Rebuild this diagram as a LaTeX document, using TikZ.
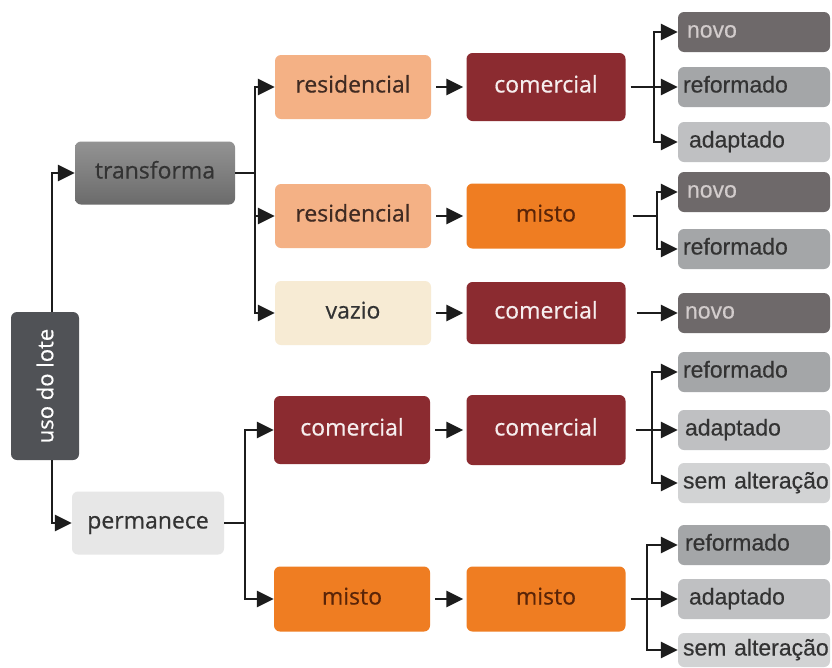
\documentclass[tikz,border=0pt]{standalone}
\usepackage{fontspec}
\setmainfont{Open Sans}[BoldFont=Open Sans, BoldFeatures={FakeBold=0.5}]
\newfontfamily\leaffont{Liberation Sans}[BoldFont=Liberation Sans, BoldFeatures={FakeBold=0.4}]
\usetikzlibrary{arrows.meta,calc}
\definecolor{usoc}{HTML}{505256}
\definecolor{transtop}{HTML}{939393}
\definecolor{transbot}{HTML}{6B6B6B}
\definecolor{permc}{HTML}{E7E7E7}
\definecolor{resc}{HTML}{F4B185}
\definecolor{vazc}{HTML}{F7EBD4}
\definecolor{comc}{HTML}{8B2B30}
\definecolor{mistc}{HTML}{EF7D22}
\definecolor{novoc}{HTML}{6E696A}
\definecolor{refc}{HTML}{A4A6A8}
\definecolor{adapc}{HTML}{BFC0C2}
\definecolor{semc}{HTML}{D2D3D4}
\definecolor{darktxt}{HTML}{333333}
\definecolor{mistxt}{HTML}{5A2408}
\definecolor{restxt}{HTML}{3F2A22}
\definecolor{comtxt}{HTML}{F6EEEE}
\definecolor{novotxt}{HTML}{D2CCCC}
\definecolor{arrowc}{HTML}{1C1C1C}
\begin{document}
\begin{tikzpicture}[x=1pt,y=-1pt,
  box/.style={rectangle, rounded corners=6pt, inner sep=0pt, draw=none,
    font=\bfseries\fontsize{23}{27}\selectfont, text height=12pt, text depth=1pt},
  colbox/.style={box, minimum width=156pt, minimum height=64pt},
  leaf/.style={rectangle, rounded corners=6pt, draw=none, minimum height=40pt,
    text width=142pt, inner xsep=5pt, inner ysep=0pt, align=left,
    font=\leaffont\bfseries\fontsize{23}{27}\selectfont, text height=12pt, text depth=1pt},
  ln/.style={line width=2.7pt, draw=arrowc},
  arr/.style={ln, -{Triangle[length=17pt,width=16pt]}}
]
\useasboundingbox (0,0) rectangle (832,667);
\fill[white] (0,0) rectangle (832,667);

% root
\node[rectangle, rounded corners=6pt, inner sep=0pt, fill=usoc, text=white,
  minimum width=68pt, minimum height=148pt, font=\bfseries\fontsize{22}{26}\selectfont]
  (uso) at (45,386) {\rotatebox{90}{uso do lote}};

% level 1
\node[box, minimum width=160pt, minimum height=63pt, top color=transtop, bottom color=transbot, text=darktxt]
  (trans) at (155,173) {transforma};
\node[box, minimum width=152pt, minimum height=63pt, fill=permc, text=darktxt]
  (perm) at (148,523) {permanece};

% level 2
\node[colbox, fill=resc, text=restxt] (res1) at (353,87) {residencial};
\node[colbox, fill=resc, text=restxt] (res2) at (353,216) {residencial};
\node[colbox, fill=vazc, text=darktxt] (vaz) at (353,313) {vazio};
\node[colbox, minimum height=68pt, fill=comc, text=comtxt] (pcom) at (352,430) {comercial};
\node[colbox, minimum height=65pt, fill=mistc, text=mistxt] (pmis) at (352,599) {misto};

% level 3
\node[colbox, minimum width=159pt, minimum height=68pt, fill=comc, text=comtxt] (com1) at (546,87) {comercial};
\node[colbox, minimum width=159pt, minimum height=65pt, fill=mistc, text=mistxt] (mis1) at (546,216) {misto};
\node[colbox, minimum width=159pt, minimum height=62pt, fill=comc, text=comtxt] (com2) at (546,313) {comercial};
\node[colbox, minimum width=159pt, minimum height=70pt, fill=comc, text=comtxt] (com3) at (546,430) {comercial};
\node[colbox, minimum width=159pt, minimum height=65pt, fill=mistc, text=mistxt] (mis2) at (546,599) {misto};

% leaves
\node[leaf, fill=novoc, text=novotxt] (novo1) at (754,32) {\hspace*{4pt}novo};
\node[leaf, fill=refc, text=darktxt] (ref1) at (754,87) {reformado};
\node[leaf, fill=adapc, text=darktxt] (adap1) at (754,142) {\hspace*{6pt}adaptado};
\node[leaf, fill=novoc, text=novotxt] (novo2) at (754,192) {\hspace*{4pt}novo};
\node[leaf, fill=refc, text=darktxt] (ref2) at (754,249) {reformado};
\node[leaf, fill=novoc, text=novotxt] (novo3) at (754,313) {\hspace*{2pt}novo};
\node[leaf, fill=refc, text=darktxt] (ref3) at (754,372) {reformado};
\node[leaf, fill=adapc, text=darktxt] (adap3) at (754,430) {\hspace*{2pt}adaptado};
\node[leaf, fill=semc, text=darktxt] (sem3) at (754,483) {\mbox{sem alteração}};
\node[leaf, fill=refc, text=darktxt] (ref4) at (754,545) {\hspace*{2pt}reformado};
\node[leaf, fill=adapc, text=darktxt] (adap4) at (754,599) {\hspace*{6pt}adaptado};
\node[leaf, minimum height=34pt, fill=semc, text=darktxt] (sem4) at (754,650) {\mbox{sem alteração}};

% connectors root
\draw[arr] ([xshift=7pt]uso.north) |- (trans.west);
\draw[arr] ([xshift=7pt]uso.south) |- (perm.west);

% transforma fan
\coordinate (jT) at (255,173);
\draw[ln] (trans.east) -- (jT);
\draw[arr] (jT) |- (res1.west);
\draw[arr] (jT) |- (res2.west);
\draw[arr] (jT) |- (vaz.west);

% permanece fan
\coordinate (jP) at (245,523);
\draw[ln] (perm.east) -- (jP);
\draw[arr] (jP) |- (pcom.west);
\draw[arr] (jP) |- (pmis.west);

% level 2 -> level 3
\draw[arr] ([xshift=5pt]res1.east) -- ([xshift=-3pt]com1.west);
\draw[arr] ([xshift=5pt]res2.east) -- ([xshift=-3pt]mis1.west);
\draw[arr] ([xshift=5pt]vaz.east) -- ([xshift=-3pt]com2.west);
\draw[arr] ([xshift=5pt]pcom.east) -- ([xshift=-3pt]com3.west);
\draw[arr] ([xshift=5pt]pmis.east) -- ([xshift=-3pt]mis2.west);

% group 1
\coordinate (j1) at (654,87);
\draw[arr] ([xshift=5pt]com1.east) -- (ref1.west);
\draw[arr] (j1) |- (novo1.west);
\draw[arr] (j1) |- (adap1.west);

% group 2
\coordinate (j2) at (657,216);
\draw[ln] ([xshift=7pt]mis1.east) -- (j2);
\draw[arr] (j2) |- (novo2.west);
\draw[arr] (j2) |- (ref2.west);

% group 3
\draw[arr] ([xshift=11pt]com2.east) -- (novo3.west);

% group 4
\coordinate (j4) at (652,430);
\draw[arr] ([xshift=10pt]com3.east) -- (adap3.west);
\draw[arr] (j4) |- (ref3.west);
\draw[arr] (j4) |- (sem3.west);

% group 5
\coordinate (j5) at (647,599);
\draw[arr] ([xshift=5pt]mis2.east) -- (adap4.west);
\draw[arr] (j5) |- (ref4.west);
\draw[arr] (j5) |- (sem4.west);
\end{tikzpicture}
\end{document}
